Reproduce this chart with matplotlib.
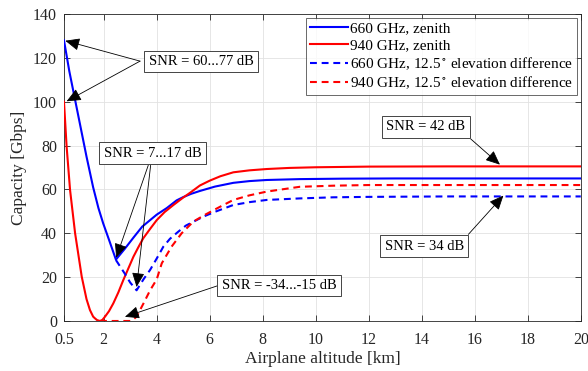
import matplotlib
matplotlib.use("Agg")
import matplotlib.pyplot as plt

plt.rcParams['font.family'] = ['Liberation Serif', 'DejaVu Serif']
plt.rcParams['mathtext.fontset'] = 'stix'

# --- data ---
alt_660_zen = [0.5, 0.7, 0.85, 1.1, 1.35, 1.6, 1.8, 1.98, 2.2, 2.46, 2.8, 3.12, 3.45, 3.75, 4.0, 4.38,
               4.75, 5.0, 5.3, 5.63, 6.2, 6.89, 7.5, 8.15, 9.4, 11, 13, 16, 20]
cap_660_zen = [128, 114, 105, 90, 75, 61, 51.5, 44.5, 37, 28, 33, 38, 43, 46, 48.5, 51.5,
               55, 56.5, 58, 59.3, 61.3, 63, 63.8, 64.3, 64.7, 64.9, 65, 65, 65]

alt_940_zen = [0.5, 0.6, 0.73, 0.92, 1.17, 1.35, 1.48, 1.6, 1.67, 1.75, 1.86, 1.95, 2.05, 2.2,
               2.36, 2.55, 2.74, 2.93, 3.12, 3.3, 3.49, 3.75, 4.0, 4.3, 4.63, 5.0, 5.25, 5.63,
               6.0, 6.4, 6.89, 7.5, 8.15, 9.0, 10, 12, 15, 20]
cap_940_zen = [100, 79.5, 59.7, 40, 20.2, 10, 5, 2, 1.2, 0.4, 0, 0.5, 2, 4.5,
               8, 13, 18.7, 24, 29.3, 33.5, 37.7, 42, 46, 49.7, 52.9, 56.3, 58.4, 61.8,
               64, 66, 67.8, 68.7, 69.3, 69.8, 70.1, 70.4, 70.5, 70.5]

alt_660_elev = [2.46, 2.8, 3.0, 3.24, 3.5, 3.75, 4.0, 4.25, 4.5, 4.81, 5.1, 5.5, 5.76, 6.2,
                6.89, 7.5, 8.15, 9.4, 10.66, 12, 15, 20]
cap_660_elev = [27.8, 21.5, 17.5, 14, 19, 23.3, 28.5, 33.9, 37.5, 40.7, 43.5, 46, 47.6, 49.8,
                52.9, 54.2, 55.2, 55.9, 56.4, 56.6, 56.8, 56.8]

alt_940_elev = [1.86, 2.5, 3.0, 3.1, 3.24, 3.5, 3.75, 4.0, 4.19, 4.56, 4.94, 5.38, 5.8, 6.39,
                6.89, 7.5, 8.15, 9.4, 10.66, 12, 15, 20]
cap_940_elev = [0, 0, 0, 0.5, 2, 8, 14, 19, 26.3, 33.9, 40, 45.3, 48.3, 52.1,
                55.2, 57.3, 59, 61.2, 61.7, 62, 62, 62]

series_labels = ["660 GHz, zenith", "940 GHz, zenith",
                 "660 GHz, 12.5$\\,^{\\circ}$ elevation difference",
                 "940 GHz, 12.5$\\,^{\\circ}$ elevation difference"]

x_ticks = [0.5, 2, 4, 6, 8, 10, 12, 14, 16, 18, 20]
x_tick_labels = ["0.5", "2", "4", "6", "8", "10", "12", "14", "16", "18", "20"]
y_ticks = [0, 20, 40, 60, 80, 100, 120, 140]

fig = plt.figure(figsize=(5.88, 3.71), dpi=100)
ax = fig.add_axes([0.1088, 0.1348, 0.8789, 0.8275])

lw = 1.5
ax.plot(alt_660_zen, cap_660_zen, color=(0, 0, 1), lw=lw, label=series_labels[0], zorder=3)
ax.plot(alt_940_zen, cap_940_zen, color=(1, 0, 0), lw=lw, label=series_labels[1], zorder=3)
ax.plot(alt_660_elev, cap_660_elev, color=(0, 0, 1), lw=lw, ls=(0, (3.3, 2.3)), label=series_labels[2], zorder=3)
ax.plot(alt_940_elev, cap_940_elev, color=(1, 0, 0), lw=lw, ls=(0, (3.3, 2.3)), label=series_labels[3], zorder=3)

ax.set_xlim(0.5, 20)
ax.set_ylim(0, 140)
ax.set_xticks(x_ticks)
ax.set_xticklabels(x_tick_labels)
ax.set_yticks(y_ticks)
ax.grid(True, color='#e2e2e2', lw=0.6)
ax.set_axisbelow(True)
ax.tick_params(direction='in', top=True, right=True, length=4, width=0.6,
               labelsize=11.5, colors='#262626', pad=5)
ax.tick_params(axis='x', pad=8)
for s in ax.spines.values():
    s.set_color('#262626')
    s.set_linewidth(0.6)
ax.set_xlabel("Airplane altitude [km]", fontsize=12.5, color='#262626', labelpad=2)
ax.set_ylabel("Capacity [Gbps]", fontsize=12.5, color='#262626', labelpad=4)

leg = ax.legend(loc='upper right', fontsize=11, frameon=True, fancybox=False,
                edgecolor='#262626', handlelength=2.5, handletextpad=0.15,
                borderpad=0.25, labelspacing=0.2, borderaxespad=0.25)
leg.get_frame().set_linewidth(0.6)

box = dict(boxstyle='square,pad=0.3', fc='white', ec='#262626', lw=0.6)
aprops = dict(arrowstyle='-|>,head_length=0.8,head_width=0.35', color='black',
              lw=0.6, shrinkA=0, shrinkB=0, mutation_scale=11)

def label(txt, x, y):
    ax.text(x, y, txt, fontsize=10.5, ha='center', va='center', bbox=box, zorder=6)

def arrow(x0, y0, x1, y1):
    ax.annotate('', xy=(x1, y1), xytext=(x0, y0), arrowprops=aprops, zorder=5)

label("SNR = 60...77 dB", 5.67, 118.3)
arrow(3.37, 118.5, 0.55, 127.8)
arrow(3.37, 118.5, 0.6, 100.2)

label("SNR = 7...17 dB", 3.84, 76.5)
arrow(3.68, 71.0, 2.47, 28.8)
arrow(3.77, 71.0, 3.24, 15.5)

label("SNR = -34...-15 dB", 8.61, 16.2)
arrow(6.28, 16.0, 2.8, 1.9)

label("SNR = 42 dB", 14.15, 88.6)
arrow(15.85, 83.0, 16.95, 71.3)

label("SNR = 34 dB", 14.1, 34.1)
arrow(15.76, 39.5, 17.08, 57.2)

fig.savefig("out.png", dpi=100)
